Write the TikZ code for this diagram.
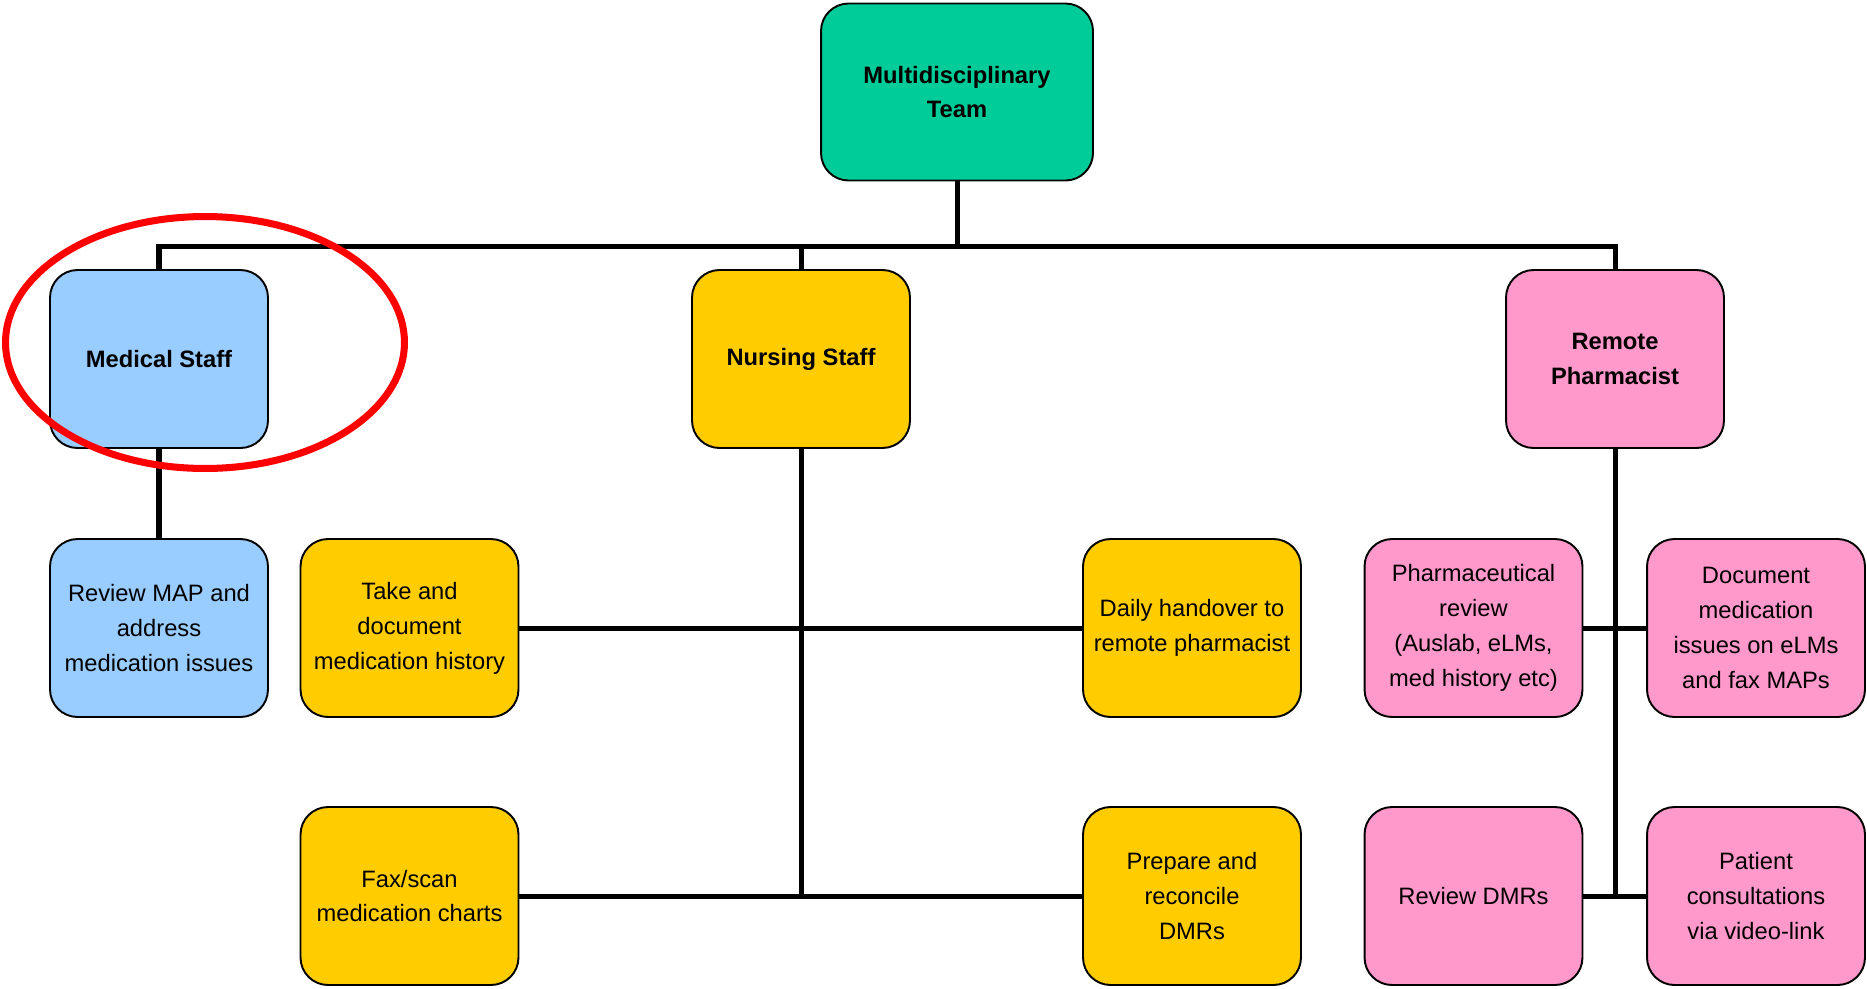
\documentclass[tikz,border=0pt]{standalone}
\usepackage{fontspec}
\setmainfont{Liberation Sans}
\usepackage{tikz}
\usetikzlibrary{shapes.geometric}
\definecolor{mdtgreen}{HTML}{00CC99}
\definecolor{medblue}{HTML}{99CCFF}
\definecolor{nursegold}{HTML}{FFCC00}
\definecolor{pharmpink}{HTML}{FF99CC}

\begin{document}
\begin{tikzpicture}[x=0.02cm, y=-0.02cm,
  box/.style={draw=black, line width=1.1pt, rounded corners=0.55cm, align=center, inner sep=0pt,
    minimum width=4.36cm, minimum height=3.56cm, font=\fontsize{13.5}{19.9}\selectfont},
  head/.style={box, font=\fontsize{13.5}{19.9}\selectfont\bfseries},
  conn/.style={line width=2.85pt, black},
  ring/.style={draw=red, line width=4pt, ellipse, inner sep=0pt, minimum width=7.98cm, minimum height=5.04cm}]
\useasboundingbox (0,0) rectangle (1867,988);

\node[head, fill=mdtgreen, minimum width=5.44cm, minimum height=3.54cm] (mdt) at (957,92) {Multidisciplinary\\Team};

\node[head, fill=medblue] (med) at (159,359) {Medical Staff};
\node[head, fill=nursegold] (nur) at (801,359) {Nursing Staff};
\node[head, fill=pharmpink] (rem) at (1615,359) {Remote\\Pharmacist};

\node[box, fill=medblue] (rmap) at (159,628) {Review MAP and\\address\\medication issues};
\node[box, fill=nursegold] (take) at (409.5,628) {Take and\\document\\medication history};
\node[box, fill=nursegold] (daily) at (1192,628) {Daily handover to\\remote pharmacist};
\node[box, fill=pharmpink] (pharm) at (1473.5,628) {Pharmaceutical\\review\\(Auslab, eLMs,\\med history etc)};
\node[box, fill=pharmpink] (docm) at (1756,628) {Document\\medication\\issues on eLMs\\and fax MAPs};

\node[box, fill=nursegold] (fax) at (409.5,896) {Fax/scan\\medication charts};
\node[box, fill=nursegold] (prep) at (1192,896) {Prepare and\\reconcile\\DMRs};
\node[box, fill=pharmpink] (rdmr) at (1473.5,896) {Review DMRs};
\node[box, fill=pharmpink] (pat) at (1756,896) {Patient\\consultations\\via video-link};

\coordinate (bus) at (957,246);

\draw[conn] (mdt.south) -- (bus);
\draw[conn] (med.north) |- (bus) -| (rem.north);
\draw[conn] (nur.north) -- (nur.north |- bus);

\draw[conn] (med.south) -- (rmap.north);

\draw[conn] (nur.south) -- (nur.south |- fax.east);
\draw[conn] (take.east) -- (daily.west);
\draw[conn] (fax.east) -- (prep.west);

\draw[conn] (rem.south) -- (rem.south |- rdmr.east);
\draw[conn] (pharm.east) -- (docm.west);
\draw[conn] (rdmr.east) -- (pat.west);

\node[ring] (focus) at (205,342.5) {};

\end{tikzpicture}
\end{document}
